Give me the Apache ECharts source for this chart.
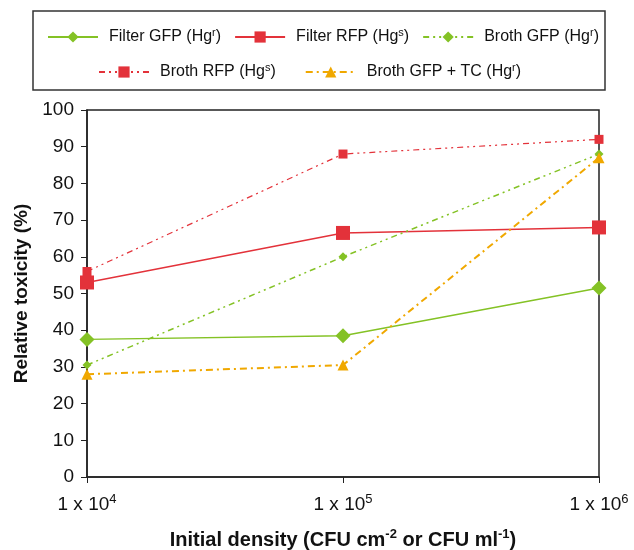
<!DOCTYPE html>
<html>
<head>
<meta charset="utf-8">
<script src="https://cdn.jsdelivr.net/npm/echarts@6/dist/echarts.min.js"></script>
<style>
  html, body { margin: 0; padding: 0; background: #fff; }
  #main { width: 634px; height: 550px; }
</style>
</head>
<body>
<div id="main"></div>
<script>
// 数据
let densities = [1e4, 1e5, 1e6];
let filterGfp = [37.5, 38.5, 51.5];
let filterRfp = [53, 66.5, 68];
let brothGfp = [30.5, 60, 88];
let brothRfp = [56, 88, 92];
let brothGfpTc = [28, 30.5, 87];

let names = ['Filter GFP (Hg^r)', 'Filter RFP (Hg^s)', 'Broth GFP (Hg^r)', 'Broth RFP (Hg^s)', 'Broth GFP + TC (Hg^r)'];

let green = '#84c225';
let red = '#e3323a';
let orange = '#f0a800';
let font = 'Liberation Sans, Arial, sans-serif';

function pairs(vals) {
    return densities.map(function (d, i) { return [d, vals[i]]; });
}

// "Hg^r" -> rich text with superscript
function supText(name) {
    let m = name.match(/^(.*)\^(\w)(.*)$/);
    if (!m) return '{g|}{a|' + name + '}';
    return '{g|}{a|' + m[1] + '}{s|' + m[2] + '}{a|' + m[3] + '}';
}

let richLegend = {
    g: { width: 6 },
    a: { fontSize: 16, fontFamily: font, color: '#111' },
    s: { fontSize: 11, fontFamily: font, color: '#111', padding: [0, 0, 9, 0] }
};

// 基于准备好的dom，初始化echarts实例
let myChart = echarts.init(document.getElementById('main'));

function lineSeries(name, vals, color, width, dash, symbol, size) {
    return {
        name: name,
        type: 'line',
        data: pairs(vals),
        symbol: symbol,
        symbolSize: size,
        color: color,
        lineStyle: { color: color, width: width, type: dash },
        itemStyle: { color: color },
        emphasis: { disabled: true },
        z: 3
    };
}

let legendBase = {
    orient: 'horizontal',
    itemWidth: 50,
    itemHeight: 14,
    formatter: supText,
    textStyle: { rich: richLegend },
    selectedMode: false
};

myChart.setOption({
    animation: false,
    graphic: [{
        type: 'rect',
        shape: { x: 33, y: 11, width: 572, height: 79 },
        style: { fill: 'none', stroke: '#333', lineWidth: 1.5 },
        silent: true
    }],
    legend: [
        Object.assign({}, legendBase, { data: names.slice(0, 3), left: 42, top: 22, itemGap: 13 }),
        Object.assign({}, legendBase, { data: names.slice(3), left: 93, top: 57, itemGap: 29 })
    ],
    grid: {
        left: 87, right: 35, top: 110, bottom: 73,
        outerBoundsMode: 'none',
        containLabel: false,
        show: true, borderColor: '#222', borderWidth: 1.5
    },
    xAxis: {
        type: 'log',
        logBase: 10,
        min: 1e4,
        max: 1e6,
        name: '{a|Initial density (CFU cm}{s|-2}{a| or CFU ml}{s|-1}{a|)}',
        nameLocation: 'middle',
        nameGap: 51,
        nameTextStyle: {
            rich: {
                a: { fontSize: 20, fontWeight: 'bold', fontFamily: font, color: '#111' },
                s: { fontSize: 13, fontWeight: 'bold', fontFamily: font, color: '#111', padding: [0, 0, 11, 0] }
            }
        },
        axisLine: { lineStyle: { color: '#222', width: 1.5 } },
        axisTick: { show: true, length: 6, lineStyle: { color: '#222' } },
        minorTick: { show: false },
        splitLine: { show: false },
        axisLabel: {
            margin: 16,
            formatter: function (v) {
                let e = Math.round(Math.log10(v));
                return '{a|1 x 10}{s|' + e + '}';
            },
            rich: {
                a: { fontSize: 19, fontFamily: font, color: '#111' },
                s: { fontSize: 13, fontFamily: font, color: '#111', padding: [0, 0, 11, 0] }
            }
        }
    },
    yAxis: {
        type: 'value',
        min: 0,
        max: 100,
        interval: 10,
        name: 'Relative toxicity (%)',
        nameLocation: 'middle',
        nameGap: 55,
        nameTextStyle: { fontSize: 19, fontWeight: 'bold', fontFamily: font, color: '#111' },
        axisLine: { show: true, lineStyle: { color: '#222', width: 1.5 } },
        axisTick: { show: true, length: 6, lineStyle: { color: '#222' } },
        splitLine: { show: false },
        axisLabel: { fontSize: 19, fontFamily: font, color: '#111', margin: 13 }
    },
    series: [
        lineSeries(names[0], filterGfp, green, 1.5, 'solid', 'diamond', 15),
        lineSeries(names[1], filterRfp, red, 1.5, 'solid', 'rect', 14),
        lineSeries(names[2], brothGfp, green, 1.5, [6, 4, 2, 4, 2, 4], 'diamond', 9),
        lineSeries(names[3], brothRfp, red, 1.2, [6, 4, 2, 4, 2, 4], 'rect', 9),
        lineSeries(names[4], brothGfpTc, orange, 2, [7, 4, 2, 4], 'triangle', 11)
    ]
});
</script>
</body>
</html>
